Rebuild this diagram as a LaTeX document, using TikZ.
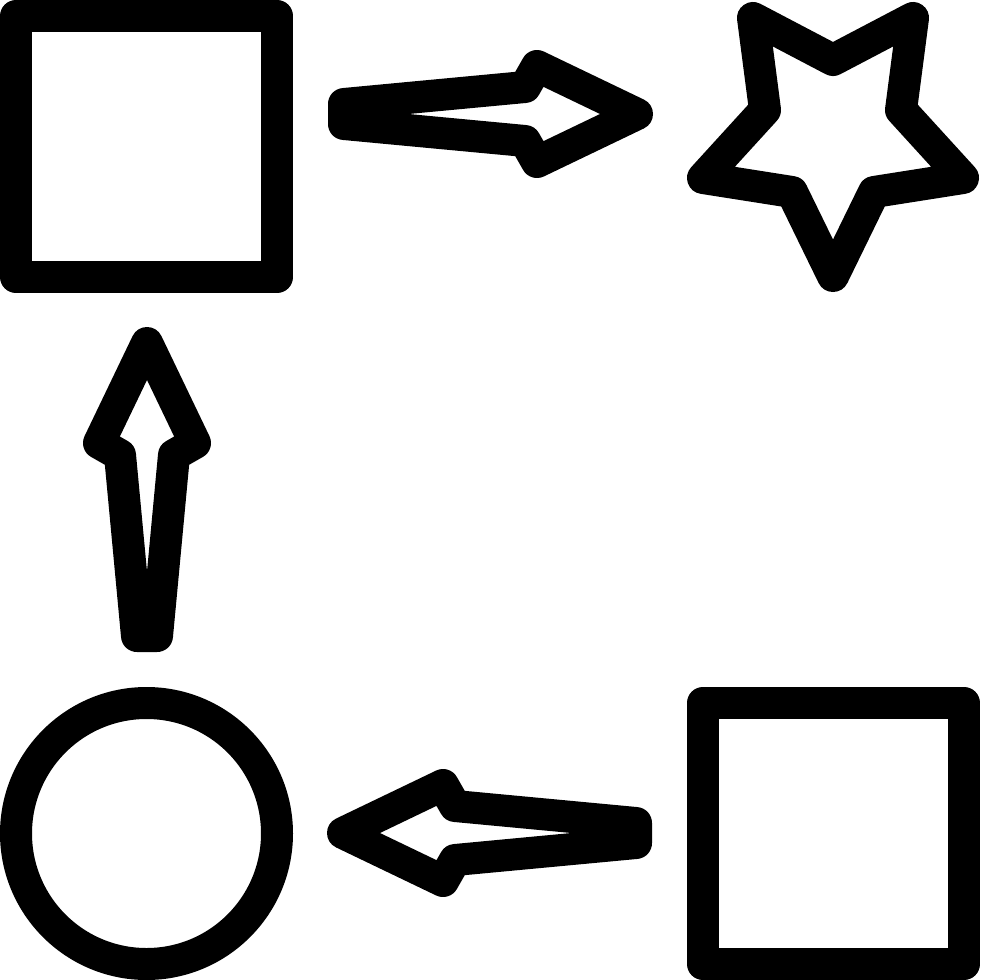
\documentclass[tikz,border=0pt]{standalone}
\begin{document}
\begin{tikzpicture}[x=1pt,y=-1pt,
  icon/.style={draw=black,line width=32pt,line join=round},
  boxshape/.style={icon,rectangle,minimum size=261pt,inner sep=0pt,outer sep=0pt},
  ringshape/.style={icon,circle,minimum size=261pt,inner sep=0pt,outer sep=0pt},
  bigarrow/.pic={\draw[icon] (16,-10) -- (197,-27) -- (209,-48) -- (309,0) -- (209,48) -- (197,27) -- (16,10) -- cycle;}]
\useasboundingbox (0,0) rectangle (980,980);
\node[boxshape] (sqa) at (146.5,146.5) {};
\node[boxshape] (sqb) at (833.5,833.5) {};
\node[ringshape] (ring) at (146.5,833.5) {};
\draw[icon] (833,60) -- (913,18) -- (901,110) -- (963,178) -- (874,192) -- (833,276) -- (792,192) -- (703,178) -- (765,110) -- (753,18) -- cycle;
\pic at (328,114) {bigarrow};
\pic[rotate=90] at (147,652) {bigarrow};
\pic[rotate=180] at (652,833) {bigarrow};
\end{tikzpicture}
\end{document}
